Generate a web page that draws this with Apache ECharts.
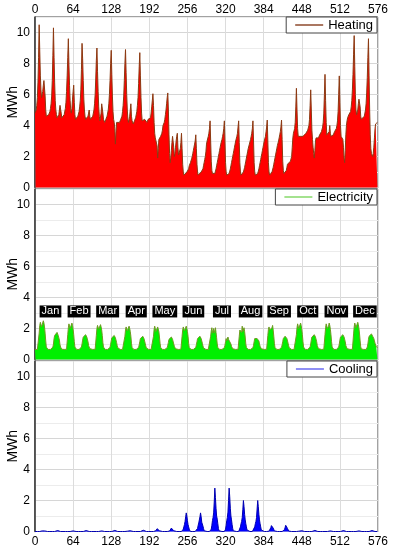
<!DOCTYPE html>
<html>
<head>
<meta charset="utf-8">
<script src="https://cdn.jsdelivr.net/npm/echarts@6/dist/echarts.min.js"></script>
<style>
html,body{margin:0;padding:0;background:#fff;}
#chart{width:394px;height:550px;}
</style>
</head>
<body>
<div id="chart"></div>
<script>
// x-axis tick labels (hours), step 64 from 0 to 576
const xTicks = [0, 64, 128, 192, 256, 320, 384, 448, 512, 576];
const yTickLabels = [0, 2, 4, 6, 8, 10];
const months = ['Jan','Feb','Mar','Apr','May','Jun','Jul','Aug','Sep','Oct','Nov','Dec'];
const seriesNames = ['Heating', 'Electricity', 'Cooling'];

// Heating, MWh, 48 hourly values per month (two days), 24 per line
const heating = [
4.8,4.9,5.0,5.3,5.8,6.8,8.4,10.5,8.8,7.2,6.3,5.8,5.9,6.2,6.6,6.9,7.0,5.9,5.0,4.6,4.5,4.5,4.6,4.7,
4.8,4.9,5.1,5.4,5.9,6.9,8.5,10.3,8.4,6.8,5.6,5.0,4.7,4.5,4.4,4.5,4.7,5.0,5.3,5.4,4.8,4.5,4.4,4.5,
4.6,4.7,4.8,5.1,5.5,6.2,7.2,8.4,9.6,7.9,6.6,5.6,5.0,4.8,5.1,5.7,6.2,6.6,5.5,4.7,4.4,4.3,4.4,4.5,
4.6,4.7,4.9,5.2,5.6,6.3,7.6,9.3,8.3,6.9,5.7,5.0,4.6,4.4,4.3,4.4,4.5,4.6,4.8,5.0,4.6,4.4,4.3,4.4,
4.5,4.6,4.7,5.0,5.4,6.0,7.0,8.2,9.0,7.5,6.2,5.2,4.6,4.3,4.4,4.8,5.4,5.5,4.8,4.4,4.3,4.2,4.3,4.4,
4.5,4.6,4.7,5.0,5.4,6.0,6.9,8.0,8.85,7.3,5.9,4.9,4.4,4.2,3.8,2.8,3.6,4.2,4.3,4.2,4.1,4.1,4.2,4.3,
4.4,4.5,4.6,4.9,5.3,5.9,6.9,8.0,8.9,7.4,6.0,5.0,4.4,4.2,4.3,4.6,5.0,5.4,4.6,4.3,4.2,4.1,4.2,4.3,
4.4,4.5,4.6,4.9,5.3,5.8,6.7,7.8,8.7,7.2,5.8,4.8,4.3,4.2,4.2,4.3,4.4,4.5,4.4,4.3,4.2,4.3,4.4,4.4,
4.3,4.3,4.5,4.8,5.2,5.6,6.05,5.3,4.2,3.5,3.2,3.2,3.1,2.7,1.9,2.5,3.1,3.2,3.2,3.3,3.4,3.5,3.7,4.0,
4.0,4.2,4.4,4.7,5.0,5.4,5.8,6.1,5.0,3.4,2.2,1.6,1.9,2.4,2.9,3.3,3.4,2.6,2.0,2.2,2.6,3.0,3.3,3.5,
2.6,2.1,2.0,2.2,2.5,2.9,3.5,2.5,1.5,1.0,0.8,0.8,0.8,0.9,0.9,1.0,1.0,1.1,1.2,1.4,1.5,1.6,1.7,1.85,
2.0,2.2,2.4,2.6,2.8,3.0,3.4,2.5,1.5,1.0,0.8,0.8,0.8,0.9,0.9,1.0,1.0,1.1,1.2,1.4,1.6,1.8,2.0,2.3,
2.8,3.0,3.1,3.3,3.5,3.8,4.3,3.0,1.7,1.1,0.9,0.8,0.8,0.8,0.9,1.0,1.2,1.4,1.6,1.8,2.0,2.2,2.4,2.6,
2.8,2.9,3.1,3.3,3.5,3.8,4.3,3.0,1.6,1.0,0.8,0.8,0.8,0.8,0.9,1.0,1.2,1.4,1.6,1.8,2.0,2.2,2.4,2.6,
2.8,3.0,3.1,3.3,3.5,3.9,4.3,2.9,1.6,1.0,0.8,0.8,0.8,0.9,1.0,1.1,1.3,1.5,1.7,1.9,2.1,2.3,2.5,2.6,
2.8,2.9,3.1,3.3,3.5,3.8,4.3,3.0,1.6,1.0,0.8,0.8,0.8,0.8,0.9,1.0,1.2,1.4,1.6,1.8,2.0,2.2,2.4,2.6,
2.8,3.0,3.1,3.3,3.6,3.9,4.35,3.0,1.6,1.0,0.8,0.8,0.8,0.9,1.0,1.1,1.3,1.5,1.7,1.9,2.1,2.3,2.5,2.7,
2.8,3.0,3.2,3.4,3.6,3.9,4.35,3.1,1.7,1.1,0.9,0.9,0.9,1.0,1.1,1.3,1.5,1.6,1.6,1.6,1.6,1.7,1.8,2.0,
2.6,3.2,3.5,3.6,3.8,4.2,5.2,6.4,5.0,3.8,3.3,3.3,3.4,3.4,3.3,3.3,3.4,3.4,3.3,3.3,3.3,3.4,3.4,3.5,
3.5,3.6,3.7,3.8,4.0,4.4,5.3,6.3,5.0,3.7,3.1,2.6,2.2,1.9,2.4,3.0,3.2,3.3,3.3,3.3,3.2,3.3,3.4,3.5,
3.5,3.6,3.7,3.9,4.2,4.8,6.0,7.3,5.6,4.2,3.4,3.3,3.3,3.4,3.6,4.0,3.5,3.3,3.3,3.3,3.3,3.4,3.5,3.6,
3.6,3.7,3.8,4.0,4.3,4.9,6.0,7.2,5.5,4.0,3.3,3.2,3.2,3.1,2.6,1.9,1.6,2.4,3.4,4.0,4.3,4.5,4.6,4.7,
4.7,4.8,4.9,5.2,5.6,6.3,7.3,8.6,9.8,7.8,6.0,5.0,4.7,4.8,5.0,5.4,5.7,5.8,5.2,4.6,4.4,4.4,4.4,4.5,
4.5,4.6,4.8,5.0,5.4,6.1,7.1,8.4,9.6,7.2,5.0,3.4,2.5,2.2,2.1,2.0,2.2,2.6,3.2,3.8,4.1,4.2,4.2,4.2
];

// Electricity, MWh
const electricity = [
0.65,0.65,0.65,0.65,0.65,0.66,0.7,1.7,2.2,2.4,2.3,2.1,2.0,2.2,2.5,2.35,2.1,1.7,1.2,0.8,0.68,0.66,0.65,0.65,
0.65,0.65,0.65,0.65,0.65,0.66,0.8,1.0,1.35,1.55,1.65,1.55,1.6,1.75,1.65,1.55,1.45,1.25,0.95,0.8,0.7,0.66,0.65,0.65,
0.65,0.65,0.65,0.65,0.65,0.66,0.7,1.6,2.05,2.3,2.2,2.0,1.9,2.1,2.35,2.2,1.95,1.6,1.15,0.8,0.68,0.66,0.65,0.65,
0.65,0.65,0.65,0.65,0.65,0.66,0.8,1.0,1.25,1.45,1.55,1.45,1.5,1.6,1.55,1.45,1.35,1.15,0.9,0.78,0.7,0.66,0.65,0.65,
0.65,0.65,0.65,0.65,0.65,0.66,0.7,1.55,2.0,2.2,2.1,1.95,1.85,2.05,2.25,2.1,1.9,1.55,1.1,0.8,0.68,0.66,0.65,0.65,
0.65,0.65,0.65,0.65,0.65,0.66,0.78,0.98,1.2,1.4,1.5,1.4,1.45,1.55,1.5,1.4,1.3,1.1,0.9,0.76,0.7,0.66,0.65,0.65,
0.65,0.65,0.65,0.65,0.65,0.66,0.7,1.5,1.9,2.1,2.0,1.85,1.8,1.95,2.15,2.0,1.8,1.5,1.05,0.78,0.68,0.66,0.65,0.65,
0.65,0.65,0.65,0.65,0.65,0.66,0.78,0.95,1.15,1.35,1.45,1.35,1.4,1.5,1.45,1.35,1.25,1.05,0.88,0.75,0.7,0.66,0.65,0.65,
0.65,0.65,0.65,0.65,0.65,0.66,0.7,1.5,1.95,2.15,2.0,1.8,1.75,1.9,2.1,2.0,1.8,1.45,1.05,0.78,0.68,0.66,0.65,0.65,
0.65,0.65,0.65,0.65,0.65,0.66,0.76,0.92,1.1,1.3,1.4,1.3,1.35,1.45,1.4,1.3,1.2,1.0,0.85,0.74,0.69,0.66,0.65,0.65,
0.65,0.65,0.65,0.65,0.65,0.66,0.7,1.5,1.9,2.1,2.0,1.85,1.8,1.95,2.15,2.0,1.8,1.5,1.05,0.78,0.68,0.66,0.65,0.65,
0.65,0.65,0.65,0.65,0.65,0.66,0.78,0.95,1.15,1.35,1.45,1.35,1.4,1.5,1.45,1.35,1.25,1.05,0.88,0.75,0.7,0.66,0.65,0.65,
0.65,0.65,0.65,0.65,0.65,0.66,0.72,1.5,1.85,2.05,1.7,1.75,2.0,1.7,1.8,2.05,1.75,1.4,1.0,0.78,0.68,0.66,0.65,0.65,
0.65,0.65,0.65,0.65,0.65,0.66,0.76,0.92,1.15,1.35,1.2,1.3,1.45,1.3,1.35,1.4,1.2,1.0,0.85,0.74,0.69,0.66,0.65,0.65,
0.65,0.65,0.65,0.65,0.65,0.66,0.72,1.5,1.9,2.0,1.8,1.75,2.15,1.8,1.85,2.05,1.8,1.45,1.0,0.78,0.68,0.66,0.65,0.65,
0.65,0.65,0.65,0.65,0.65,0.66,0.76,0.92,1.15,1.35,1.25,1.3,1.45,1.35,1.4,1.35,1.2,1.0,0.85,0.74,0.69,0.66,0.65,0.65,
0.65,0.65,0.65,0.65,0.65,0.66,0.72,1.55,1.95,2.1,1.9,1.8,2.0,1.9,2.05,2.2,1.9,1.5,1.05,0.78,0.68,0.66,0.65,0.65,
0.65,0.65,0.65,0.65,0.65,0.66,0.78,0.95,1.15,1.35,1.3,1.35,1.5,1.4,1.4,1.35,1.25,1.05,0.88,0.75,0.7,0.66,0.65,0.65,
0.65,0.65,0.65,0.65,0.65,0.66,0.72,1.6,2.05,2.3,2.15,2.0,1.95,2.1,2.35,2.2,1.95,1.6,1.15,0.8,0.68,0.66,0.65,0.65,
0.65,0.65,0.65,0.65,0.65,0.66,0.8,1.0,1.25,1.45,1.55,1.45,1.5,1.6,1.55,1.45,1.35,1.15,0.9,0.78,0.7,0.66,0.65,0.65,
0.65,0.65,0.65,0.65,0.65,0.66,0.72,1.6,2.05,2.3,2.2,2.0,1.95,2.15,2.35,2.2,1.95,1.6,1.15,0.8,0.68,0.66,0.65,0.65,
0.65,0.65,0.65,0.65,0.65,0.66,0.8,1.0,1.25,1.45,1.55,1.45,1.5,1.6,1.55,1.45,1.35,1.15,0.9,0.78,0.7,0.66,0.65,0.65,
0.65,0.65,0.65,0.65,0.65,0.66,0.72,1.65,2.1,2.35,2.25,2.05,1.95,2.15,2.4,2.25,2.0,1.65,1.2,0.82,0.68,0.66,0.65,0.65,
0.65,0.65,0.65,0.65,0.65,0.66,0.8,1.0,1.3,1.5,1.6,1.5,1.55,1.65,1.6,1.5,1.45,1.35,1.2,1.05,0.95,0.85,0.8,0.75
];

// Cooling, MWh
const cooling = [
0,0,0,0,0,0,0,0,0,0,0,0,0.04,0.06,0.06,0.06,0.04,0,0,0,0,0,0,0,
0,0,0,0,0,0,0,0,0,0,0,0,0.04,0.06,0.06,0.06,0.04,0,0,0,0,0,0,0,
0,0,0,0,0,0,0,0,0,0,0,0,0.04,0.06,0.06,0.06,0.04,0,0,0,0,0,0,0,
0,0,0,0,0,0,0,0,0,0,0,0,0.04,0.06,0.06,0.06,0.04,0,0,0,0,0,0,0,
0,0,0,0,0,0,0,0,0,0,0,0,0.04,0.06,0.07,0.06,0.04,0,0,0,0,0,0,0,
0,0,0,0,0,0,0,0,0,0,0,0,0.04,0.06,0.07,0.06,0.04,0,0,0,0,0,0,0,
0,0,0,0,0,0,0,0,0,0,0,0.02,0.05,0.07,0.08,0.07,0.05,0.02,0,0,0,0,0,0,
0,0,0,0,0,0,0,0,0,0,0,0.02,0.05,0.07,0.08,0.07,0.05,0.02,0,0,0,0,0,0,
0,0,0,0,0,0,0,0,0,0,0.02,0.05,0.1,0.18,0.23,0.2,0.12,0.05,0.02,0,0,0,0,0,
0,0,0,0,0,0,0,0,0,0,0.03,0.06,0.12,0.22,0.28,0.22,0.12,0.05,0.02,0,0,0,0,0,
0,0,0,0,0,0,0,0,0.05,0.15,0.3,0.45,0.65,0.95,1.2,1.0,0.7,0.45,0.3,0.15,0.05,0,0,0,
0,0,0,0,0,0,0,0,0.08,0.2,0.4,0.55,0.6,0.95,1.2,0.95,0.6,0.5,0.35,0.2,0.05,0,0,0,
0,0,0,0,0,0,0,0.02,0.15,0.4,0.7,0.9,1.2,1.9,2.8,2.2,1.5,1.0,0.8,0.5,0.2,0.05,0,0,
0,0,0,0,0,0,0,0.02,0.15,0.4,0.7,0.9,1.25,2.0,2.8,2.25,1.5,1.0,0.75,0.45,0.2,0.05,0,0,
0,0,0,0,0,0,0,0,0.1,0.3,0.5,0.65,0.9,1.4,2.0,1.6,1.1,0.75,0.5,0.3,0.1,0.02,0,0,
0,0,0,0,0,0,0,0,0.1,0.3,0.5,0.65,0.9,1.45,2.0,1.6,1.1,0.75,0.5,0.3,0.1,0.02,0,0,
0,0,0,0,0,0,0,0,0,0.02,0.06,0.12,0.25,0.38,0.45,0.38,0.22,0.1,0.04,0,0,0,0,0,
0,0,0,0,0,0,0,0,0,0.02,0.06,0.12,0.26,0.4,0.46,0.36,0.2,0.08,0.03,0,0,0,0,0,
0,0,0,0,0,0,0,0,0,0,0,0.02,0.05,0.07,0.08,0.07,0.05,0.02,0,0,0,0,0,0,
0,0,0,0,0,0,0,0,0,0,0,0.02,0.05,0.07,0.07,0.06,0.04,0,0,0,0,0,0,0,
0,0,0,0,0,0,0,0,0,0,0,0,0.04,0.06,0.06,0.06,0.04,0,0,0,0,0,0,0,
0,0,0,0,0,0,0,0,0,0,0,0,0.04,0.06,0.06,0.06,0.04,0,0,0,0,0,0,0,
0,0,0,0,0,0,0,0,0,0,0,0,0.04,0.06,0.06,0.06,0.04,0,0,0,0,0,0,0,
0,0,0,0,0,0,0,0,0,0,0,0,0.04,0.06,0.06,0.06,0.04,0,0,0,0,0,0,0
];

const HOURS_PER_MONTH = 48;
const FONT = "'Liberation Sans', Arial, sans-serif";

const chart = echarts.init(document.getElementById('chart'), null, {renderer: 'canvas'});

const gridTops = [17, 189, 361];
const gridHeight = 170.5;

function makeX(idx) {
  return {
    type: 'value', gridIndex: idx, min: xTicks[0], max: xTicks[xTicks.length - 1],
    interval: xTicks[1] - xTicks[0],
    position: idx === 0 ? 'top' : 'bottom',
    axisLine: {show: false},
    axisTick: {show: false},
    axisLabel: {show: idx !== 1, color: '#000', fontSize: 12, fontFamily: FONT, margin: idx === 0 ? 1 : 4},
    splitLine: {show: true, lineStyle: {color: '#dcdcdc', width: 1}}
  };
}
function makeY(idx) {
  return {
    type: 'value', gridIndex: idx, min: 0, max: 11, interval: 1,
    name: 'MWh', nameLocation: 'middle', nameGap: 15, nameMoveOverlap: false,
    nameTextStyle: {color: '#000', fontSize: 14, fontFamily: FONT},
    axisLine: {show: true, onZero: false, lineStyle: {color: '#333', width: 1.5}},
    axisTick: {show: false},
    axisLabel: {
      color: '#000', fontSize: 12, fontFamily: FONT, margin: 5,
      formatter: v => (yTickLabels.indexOf(v) >= 0 ? String(v) : '')
    },
    splitLine: {show: true, lineStyle: {color: ['#d6d6d6', '#ececec'], width: 1}}
  };
}

const styles = [
  {fill: '#ff0000', line: '#8b3a12', legend: '#8e4a2c'},
  {fill: '#00f000', line: '#6f9a22', legend: '#86d86a'},
  {fill: '#0000ff', line: '#0000b0', legend: '#6a6af2'}
];
const values = [heating, electricity, cooling];

const series = values.map((arr, k) => ({
  name: seriesNames[k], type: 'line', xAxisIndex: k, yAxisIndex: k,
  data: arr.map((v, i) => [i, v]),
  showSymbol: false, symbol: 'none', animation: false,
  lineStyle: {color: styles[k].line, width: 1},
  itemStyle: {color: styles[k].line},
  areaStyle: {color: styles[k].fill, opacity: 1},
  z: 3
}));

series.push({
  name: 'months', type: 'scatter', xAxisIndex: 1, yAxisIndex: 1,
  symbol: 'rect', symbolSize: 1, itemStyle: {color: '#000', opacity: 1}, silent: true, animation: false,
  data: months.map((m, i) => ({name: m, value: [i * HOURS_PER_MONTH + 26, 3.1]})),
  label: {
    show: true, position: 'inside', formatter: '{b}', color: '#fff', opacity: 1,
    backgroundColor: '#000', fontSize: 11, fontFamily: FONT, lineHeight: 11,
    padding: [1, 2, 0, 2]
  },
  emphasis: {disabled: true},
  labelLayout: {hideOverlap: false},
  z: 10
});

const legends = seriesNames.map((n, k) => ({
  data: [{name: n, icon: 'rect', itemStyle: {color: styles[k].legend}}],
  right: 17, top: gridTops[k],
  itemWidth: 28, itemHeight: 1.5,
  backgroundColor: '#fff', borderColor: '#444', borderWidth: 1, borderRadius: 0,
  padding: [1, 4, 1, 9],
  selectedMode: false,
  textStyle: {color: '#000', fontSize: 13, fontFamily: FONT, lineHeight: 14}
}));

chart.setOption({
  animation: false,
  backgroundColor: '#fff',
  textStyle: {fontFamily: FONT},
  grid: gridTops.map(t => ({
    left: 35, right: 16, top: t, height: gridHeight,
    containLabel: false, outerBoundsMode: 'none',
    show: true, borderColor: '#444', borderWidth: 1, backgroundColor: 'transparent'
  })),
  xAxis: [0, 1, 2].map(makeX),
  yAxis: [0, 1, 2].map(makeY),
  legend: legends,
  series: series
});
</script>
</body>
</html>
